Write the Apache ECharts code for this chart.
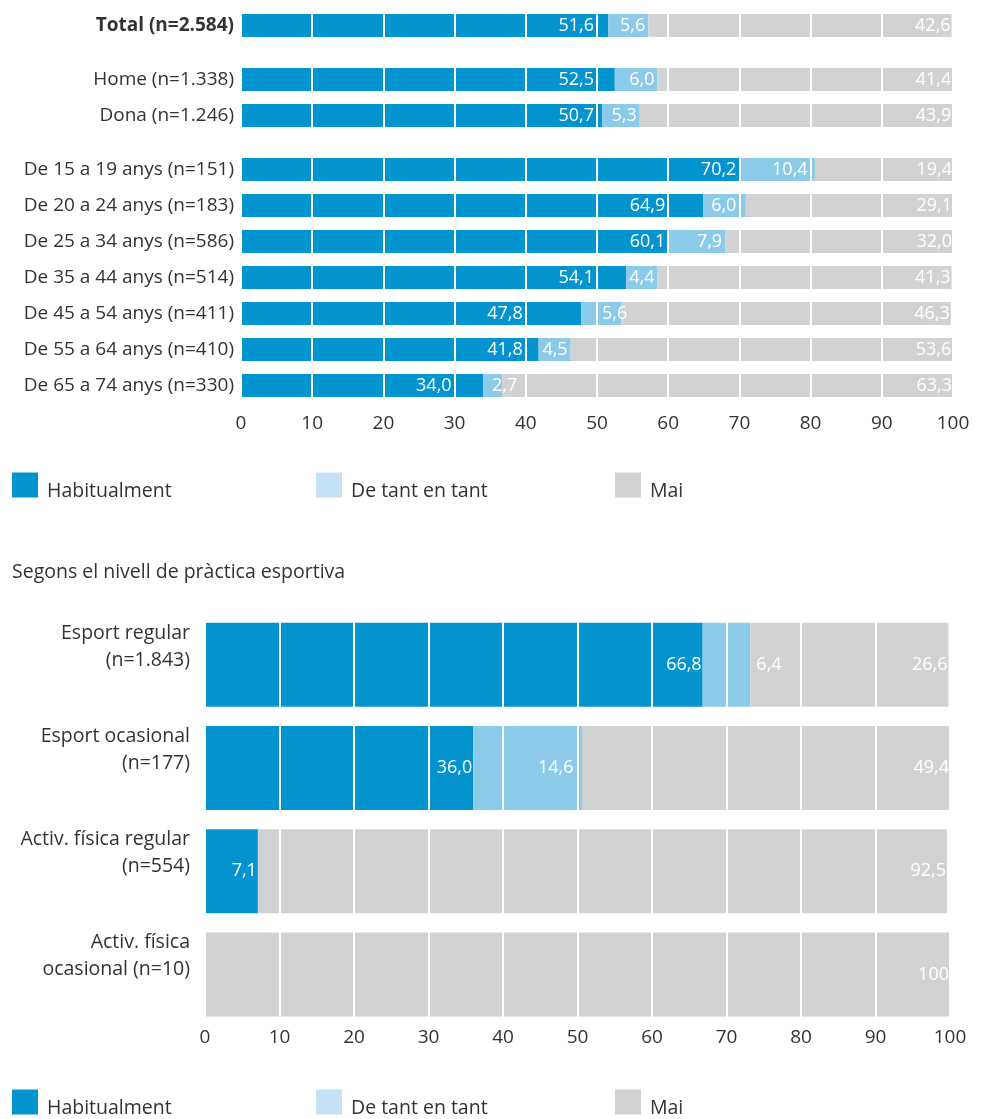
<!DOCTYPE html>
<html><head><meta charset="utf-8">
<script src="https://cdn.jsdelivr.net/npm/echarts@6/dist/echarts.min.js"></script>
<style>html,body{margin:0;padding:0;background:#fff}#c{width:991px;height:1119px}</style>
</head><body><div id="c"></div>
<script>
// ---- data ----
const seriesNames = ['Habitualment', 'De tant en tant', 'Mai'];
const xTicks = [0, 10, 20, 30, 40, 50, 60, 70, 80, 90, 100];

const totalCats = ['Total (n=2.584)'];
const totalHab = [51.6];
const totalTant = [5.6];
const totalMai = [42.6];

const sexCats = ['Home (n=1.338)', 'Dona (n=1.246)'];
const sexHab = [52.5, 50.7];
const sexTant = [6.0, 5.3];
const sexMai = [41.4, 43.9];

const ageCats = ['De 15 a 19 anys (n=151)', 'De 20 a 24 anys (n=183)', 'De 25 a 34 anys (n=586)',
  'De 35 a 44 anys (n=514)', 'De 45 a 54 anys (n=411)', 'De 55 a 64 anys (n=410)', 'De 65 a 74 anys (n=330)'];
const ageHab = [70.2, 64.9, 60.1, 54.1, 47.8, 41.8, 34.0];
const ageTant = [10.4, 6.0, 7.9, 4.4, 5.6, 4.5, 2.7];
const ageMai = [19.4, 29.1, 32.0, 41.3, 46.3, 53.6, 63.3];

const subtitle = 'Segons el nivell de pràctica esportiva';
const practCats = ['Esport regular\n(n=1.843)', 'Esport ocasional\n(n=177)', 'Activ. física regular\n(n=554)', 'Activ. física\nocasional (n=10)'];
const practHab = [66.8, 36.0, 7.1, 0];
const practTant = [6.4, 14.6, 0, 0];
const practMai = [26.6, 49.4, 92.5, 100];

// ---- style ----
const C_HAB = '#0394d0', C_TANT = '#8ccaea', C_MAI = '#d1d2d4';
const LEG_COLORS = ['#0394d0', '#c5e3f4', '#d1d2d4'];
const FONT = '"Open Sans", Lato, sans-serif';
const TXT = '#333333';

function fmt(p) {
  const v = p.value;
  if (!v) return '';
  if (v === 100) return '100';
  return v.toFixed(1).replace('.', ',');
}

const grids = [
  { left: 241, right: 38, top: 7.3, height: 36.4 },
  { left: 241, right: 38, top: 61.5, height: 72 },
  { left: 241, right: 38, top: 151.5, height: 252 },
  { left: 205, right: 41, top: 613, height: 413 }
];
const pxPerUnit = grids.map(g => (991 - g.left - g.right) / 100);

const xAxes = grids.map((g, i) => ({
  type: 'value', gridIndex: i, min: 0, max: 100, interval: 10, z: 10,
  axisLine: { show: false }, axisTick: { show: false },
  splitLine: { show: true, lineStyle: { color: '#ffffff', width: 2 } },
  axisLabel: {
    show: i >= 2, color: TXT, fontSize: 19, fontFamily: FONT,
    margin: i === 3 ? 2 : 11,
    formatter: v => xTicks.includes(v) ? String(v) : ''
  }
}));

const catSets = [totalCats, sexCats, ageCats, practCats];
const yAxes = catSets.map((cats, i) => ({
  type: 'category', gridIndex: i, data: cats, inverse: true,
  axisLine: { show: false }, axisTick: { show: false }, splitLine: { show: false },
  axisLabel: i === 3 ? {
    margin: 15, align: 'right',
    formatter: v => v.split('\n').map(l => '{a|' + l + '}').join('\n') + '\n{s| }',
    rich: {
      a: { color: TXT, fontSize: 19.5, fontFamily: FONT, lineHeight: 27, align: 'right' },
      s: { fontSize: 10, lineHeight: 36 }
    }
  } : {
    color: TXT, fontSize: 19, fontFamily: FONT, margin: 7,
    fontWeight: i === 0 ? 'bold' : 'normal'
  }
}));

const dataSets = [
  [totalHab, totalTant, totalMai],
  [sexHab, sexTant, sexMai],
  [ageHab, ageTant, ageMai],
  [practHab, practTant, practMai]
];
const colors = [C_HAB, C_TANT, C_MAI];

// label placement that mimics the original layout (labels kept clear of grid lines)
function labelFor(gi, s, e) {
  const px = pxPerUnit[gi];
  if (gi < 3) {
    let g = null;
    for (let t = 10; t <= 100; t += 10) if (t >= s + 4.5 && t <= e + 0.3) g = t;
    if (g !== null) return { offset: [Math.min(0, -(e - g) * px), 0] };
    for (let t = 10; t <= 100; t += 10) {
      if (t > s && t > e - 4.5 && t < e) return { position: 'insideLeft', distance: 3, offset: [(t - s) * px + 2, 0] };
    }
    if (e - s < 3.5) return { position: 'insideLeft', distance: 9 };
    return null;
  } else {
    for (let t = 10; t <= 100; t += 10) {
      if (t > e - 5 && t < e && t > s + 5) return { offset: [-(e - t) * px - 3, 0] };
    }
    return null;
  }
}

const series = [];
dataSets.forEach((set, gi) => {
  set.forEach((arr, si) => {
    series.push({
      name: seriesNames[si], type: 'bar', stack: 'g' + gi,
      xAxisIndex: gi, yAxisIndex: gi,
      barWidth: gi === 3 ? 84 : 23,
      itemStyle: { color: colors[si] },
      label: {
        show: true, position: 'insideRight', distance: si === 2 ? 1 : (gi === 3 ? 1 : 3),
        color: '#ffffff', fontSize: 18, fontFamily: FONT, formatter: fmt
      },
      data: arr.map((v, k) => {
        const item = { value: v };
        if (si < 2 && v) {
          let s = 0;
          for (let j = 0; j < si; j++) s += set[j][k];
          const lab = labelFor(gi, s, s + v);
          if (lab) item.label = lab;
        }
        if (gi === 3 && si === 1 && k === 0) item.label = { position: 'right', distance: 6 };
        return item;
      })
    });
  });
});

const legendX = [12, 316, 615];
const legends = [];
[469, 1086].forEach(top => {
  seriesNames.forEach((n, i) => {
    legends.push({
      left: legendX[i], top: top, orient: 'horizontal', padding: 0,
      itemWidth: 26, itemHeight: 25, icon: 'rect', itemGap: 0,
      selectedMode: false,
      formatter: name => '{s| }\n{t|' + name + '}',
      textStyle: {
        color: TXT, fontSize: 19.5, fontFamily: FONT, padding: [0, 0, 0, 4],
        rich: {
          s: { fontSize: 8, lineHeight: 12 },
          t: { color: TXT, fontSize: 19.5, fontFamily: FONT, lineHeight: 24 }
        }
      },
      data: [{ name: n, itemStyle: { color: LEG_COLORS[i] } }]
    });
  });
});

const chart = echarts.init(document.getElementById('c'), null, { renderer: 'canvas' });
chart.setOption({
  animation: false,
  backgroundColor: '#ffffff',
  title: { text: subtitle, left: 12, top: 562, padding: 0, textStyle: { color: TXT, fontSize: 19.5, fontWeight: 'normal', fontFamily: FONT } },
  legend: legends,
  grid: grids,
  xAxis: xAxes,
  yAxis: yAxes,
  series: series
});
</script></body></html>
